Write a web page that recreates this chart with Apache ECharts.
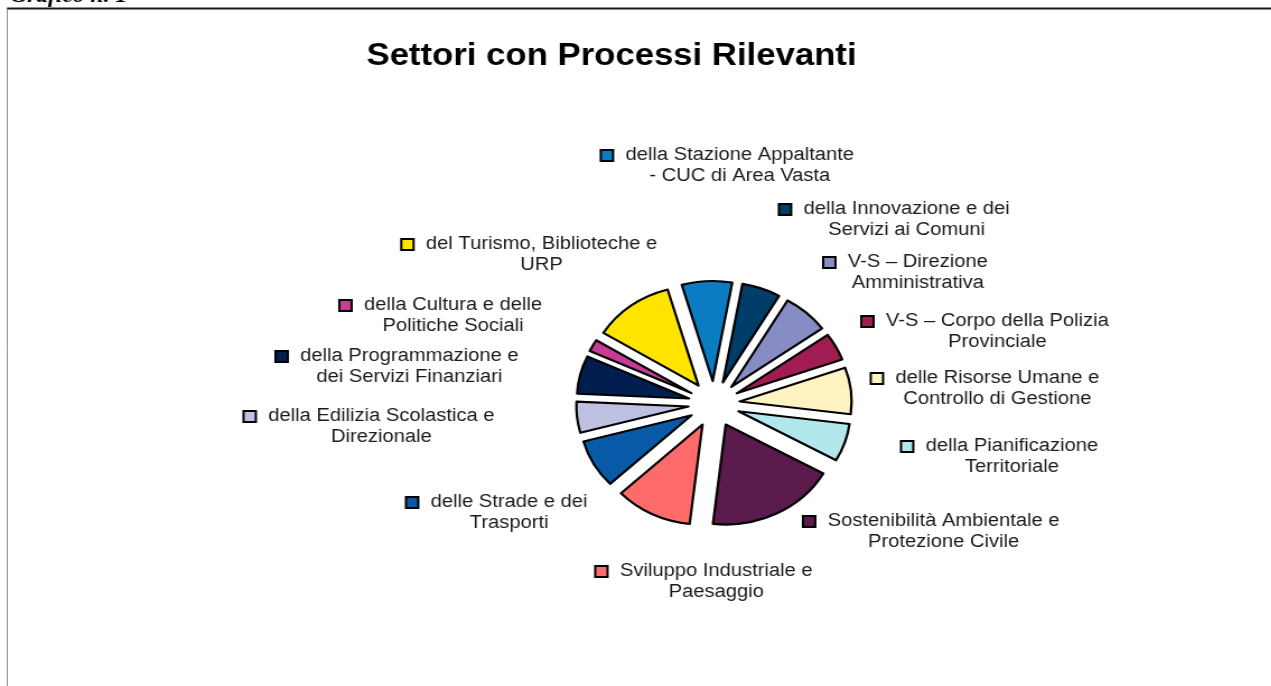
<!DOCTYPE html>
<html lang="it">
<head>
  <meta http-equiv="Content-Type" content="text/html; charset=UTF-8">
  <title>Settori con Processi Rilevanti</title>
  <script type="text/javascript" src="https://cdn.jsdelivr.net/npm/echarts@6.0.0/dist/echarts.min.js"></script>
  <style>
    html, body { margin: 0; padding: 0; background: #fff; overflow: hidden; }
    /* the source picture is stretched horizontally, so the chart is too */
    #main { width: 1135px; height: 686px; transform: scaleX(1.12); transform-origin: 0 0; }
  </style>
</head>

<body>
<div id="main"></div>
<script type="text/javascript">
  // settori (in ordine orario a partire dall'alto)
  const settori = [
    'della Stazione Appaltante\n- CUC di Area Vasta',
    'della Innovazione e dei\nServizi ai Comuni',
    'V-S – Direzione\nAmministrativa',
    'V-S – Corpo della Polizia\nProvinciale',
    'delle Risorse Umane e\nControllo di Gestione',
    'della Pianificazione\nTerritoriale',
    'Sostenibilità Ambientale e\nProtezione Civile',
    'Sviluppo Industriale e\nPaesaggio',
    'delle Strade e dei\nTrasporti',
    'della Edilizia Scolastica e\nDirezionale',
    'della Programmazione e\ndei Servizi Finanziari',
    'della Cultura e delle\nPolitiche Sociali',
    'del Turismo, Biblioteche e\nURP'
  ];
  const processi = [26, 20, 24, 16, 27, 22, 67, 40, 28, 18, 22, 7, 42];

  const colori = [
    '#0a7cc1', '#003d68', '#878cc4', '#a01c52', '#fff3c2', '#b2e8ec', '#5a1a4b',
    '#ff6a6a', '#085aa8', '#bec0e2', '#021e50', '#c83c96', '#ffe400'
  ];

  // dove stanno le etichette (centro del blocco di testo)
  const posEtichette = [
    [650, 166], [799, 220], [809, 273], [880, 332], [880, 389], [893, 457], [832, 532],
    [629, 582], [444, 513], [330, 427], [355, 367], [394, 316], [473, 255]
  ];

  // etichette con il quadratino del colore, come nel grafico originale
  const etichette = settori.map(function (nome, i) {
    const righe = nome.split('\n');
    return {
      type: 'text',
      x: posEtichette[i][0],
      y: posEtichette[i][1],
      silent: true,
      style: {
        text: '{sq|}{gap|}{t|' + righe[0] + '}\n{pad|}{t|' + righe[1] + '}',
        align: 'center',
        verticalAlign: 'middle',
        rich: {
          sq: { width: 9, height: 9, backgroundColor: colori[i], borderColor: '#000', borderWidth: 2 },
          gap: { width: 12, height: 9 },
          pad: { width: 21, height: 9 },
          t: { fontFamily: 'Liberation Sans', fontSize: 18, lineHeight: 21, fill: '#1a1a1a' }
        }
      }
    };
  });

  const myChart = echarts.init(document.getElementById('main'));
  myChart.setOption({
    animation: false,
    title: {
      text: 'Settori con Processi Rilevanti',
      left: 541,
      top: 36,
      textAlign: 'center',
      textStyle: { fontFamily: 'Liberation Sans', fontWeight: 'bold', fontSize: 31, color: '#000' }
    },
    graphic: [
      { type: 'text', x: 9, y: 7, style: { text: 'Grafico n. 1', font: 'italic bold 21px "Liberation Serif"', fill: '#000', verticalAlign: 'bottom' } },
      { type: 'line', shape: { x1: 6.2, y1: 8.5, x2: 1135, y2: 8.5 }, style: { stroke: '#1a1a1a', lineWidth: 2 } },
      { type: 'line', shape: { x1: 6.5, y1: 9, x2: 6.5, y2: 686 }, style: { stroke: '#8a8a8a', lineWidth: 1 } }
    ].concat(etichette),
    series: [
      {
        name: 'Settori',
        type: 'pie',
        center: [637.5, 404],
        radius: 100,
        startAngle: 106,
        selectedMode: 'multiple',
        selectedOffset: 23,
        itemStyle: { borderColor: '#000', borderWidth: 2.2 },
        emphasis: { disabled: true },
        label: { show: false },
        labelLine: { show: false },
        data: settori.map(function (nome, i) {
          return { name: nome, value: processi[i], selected: true, itemStyle: { color: colori[i] } };
        })
      }
    ]
  });
</script>
</body>
</html>
